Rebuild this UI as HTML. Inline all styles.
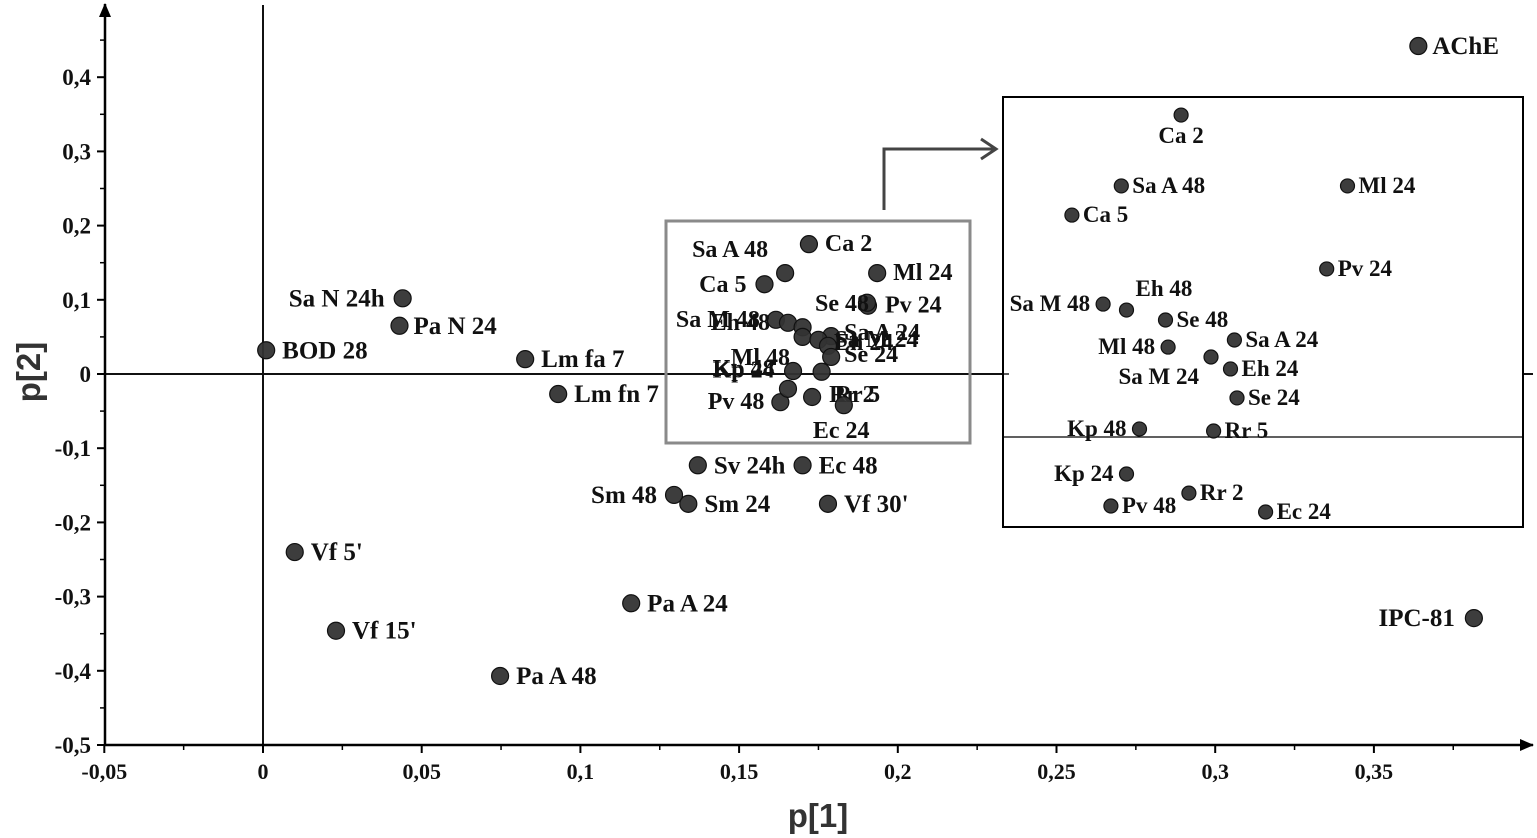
<!DOCTYPE html>
<html><head><meta charset="utf-8">
<style>
html,body{margin:0;padding:0;background:#fff;}
svg{display:block;}
text{font-family:"Liberation Serif",serif;font-weight:bold;fill:#111;}
.ax{font-family:"Liberation Sans",sans-serif;font-weight:bold;font-size:33px;fill:#333;}
</style></head>
<body>
<svg id="chart" width="1537" height="838" viewBox="0 0 1537 838" xmlns="http://www.w3.org/2000/svg"></svg>
<script>
// ---- data ----
const mainLabels = ["AChE","IPC-81","Sa N 24h","Pa N 24","BOD 28","Lm fa 7","Lm fn 7","Sv 24h","Ec 48","Sm 48","Sm 24","Vf 30'","Vf 5'","Vf 15'","Pa A 24","Pa A 48"];
const mainP1 = [0.364,0.3815,0.044,0.043,0.001,0.0826,0.093,0.137,0.170,0.1295,0.134,0.178,0.010,0.023,0.116,0.0747];
const mainP2 = [0.442,-0.329,0.102,0.065,0.032,0.020,-0.027,-0.123,-0.123,-0.163,-0.175,-0.175,-0.240,-0.346,-0.309,-0.407];
// cluster as seen in the main plot
const clusterMainLabels = ["Ca 2","Sa A 48","Ca 5","Ml 24","Pv 24","Se 48","Sa M 48","Eh 48","Kp 24","Kp 48","Sa A 24","Sa M 24","Eh 24","Se 24","Ml 48","Rr 5","Rr 2","Ec 24","Pv 48",""];
const clusterMainP1 = [0.172,0.1645,0.158,0.1935,0.1906,0.1903,0.1616,0.1654,0.170,0.170,0.179,0.175,0.178,0.179,0.167,0.176,0.173,0.183,0.163,0.1654];
const clusterMainP2 = [0.175,0.136,0.121,0.136,0.092,0.096,0.073,0.069,0.063,0.050,0.051,0.046,0.038,0.023,0.004,0.003,-0.031,-0.042,-0.038,-0.020];
// cluster as seen in the zoom inset
const clusterLabels = ["Ca 2","Sa A 48","Ca 5","Ml 24","Pv 24","Sa M 48","Eh 48","Se 48","Sa A 24","Ml 48","Sa M 24","Eh 24","Se 24","Kp 48","Rr 5","Kp 24","Rr 2","Pv 48","Ec 24"];
const clusterP1 = [0.1687,0.1641,0.1603,0.1815,0.1799,0.1627,0.1645,0.1675,0.1728,0.1677,0.1710,0.1725,0.1730,0.1655,0.1712,0.1645,0.1693,0.1633,0.1752];
const clusterP2 = [0.1722,0.1343,0.1187,0.1343,0.0899,0.0711,0.0679,0.0626,0.0519,0.0481,0.0428,0.0364,0.0209,0.0043,0.0032,-0.0198,-0.0300,-0.0369,-0.0401];
const xTicks = [-0.05,0,0.05,0.1,0.15,0.2,0.25,0.3,0.35];
const xTickLabels = ["-0,05","0","0,05","0,1","0,15","0,2","0,25","0,3","0,35"];
const yTicks = [0.4,0.3,0.2,0.1,0,-0.1,-0.2,-0.3,-0.4,-0.5];
const yTickLabels = ["0,4","0,3","0,2","0,1","0","-0,1","-0,2","-0,3","-0,4","-0,5"];

// ---- scales ----
const X = v => 263 + v*3174;
const Y = v => 374 - v*742;
const IX = v => 1003 + (v-0.155)*13000;
const IY = v => 437 - v*1869.6;

// label placements (style only): [dx, dy, anchor]
const mainLab = [[14,8,"start"],[-19,8,"end"],[-18,8,"end"],[14,8,"start"],[16,8,"start"],[16,8,"start"],[16,8,"start"],[16,8,"start"],[16,8,"start"],[-17,8,"end"],[16,8,"start"],[16,8,"start"],[16,8,"start"],[16,8,"start"],[16,8,"start"],[16,8,"start"]];
const clMainLab = [[16,7,"start"],[-17,-16,"end"],[-18,8,"end"],[16,7,"start"],[17,7,"start"],[-52,8,"start"],[-16,7,"end"],[-18,7,"end"],[-28,50,"end"],[-28,39,"end"],[13,4,"start"],[16,7,"start"],[6,4,"start"],[13,5,"start"],[-3,-6,"end"],[13,30,"start"],[17,5,"start"],[-31,33,"start"],[-16,7,"end"],[0,0,"start"]];
const clInsetLab = [[0,28,"middle"],[11,7,"start"],[11,7,"start"],[11,7,"start"],[11,7,"start"],[-13,7,"end"],[9,-14,"start"],[11,7,"start"],[11,7,"start"],[-13,7,"end"],[-12,27,"end"],[11,7,"start"],[11,7,"start"],[-13,7,"end"],[11,7,"start"],[-13,7,"end"],[11,7,"start"],[11,7,"start"],[11,7,"start"]];

const NS="http://www.w3.org/2000/svg";
const svg=document.getElementById('chart');
function mk(tag,attrs,parent){const e=document.createElementNS(NS,tag);for(const k in attrs)e.setAttribute(k,attrs[k]);(parent||svg).appendChild(e);return e;}

const defs=mk('defs',{});
const mkr=mk('marker',{id:'ah',markerWidth:'14',markerHeight:'14',refX:'13',refY:'6',orient:'auto',markerUnits:'userSpaceOnUse'},defs);
mk('path',{d:'M0,0 L14,6 L0,12 Z',fill:'#000'},mkr);

let e=mk('line',{x1:X(0),y1:5,x2:X(0),y2:745,stroke:'#111','stroke-width':2});


e=mk('line',{x1:105,y1:Y(0),x2:1533,y2:Y(0),stroke:'#111','stroke-width':2});



e=mk('line',{x1:105,y1:745,x2:105,y2:4,stroke:'#000','stroke-width':2.5,'marker-end':'url(#ah)'});


e=mk('line',{x1:105,y1:745,x2:1533,y2:745,stroke:'#000','stroke-width':2.5,'marker-end':'url(#ah)'});



xTicks.forEach((t,i)=>{
  mk('line',{x1:X(t),y1:745,x2:X(t),y2:753,stroke:'#000','stroke-width':2});
  mk('line',{x1:X(t+0.025),y1:745,x2:X(t+0.025),y2:750,stroke:'#000','stroke-width':1.5});
  const tx=mk('text',{x:X(t),y:779,'text-anchor':'middle','font-size':22});
  tx.textContent=xTickLabels[i];
  
  
});
yTicks.forEach((t,i)=>{
  mk('line',{x1:97,y1:Y(t),x2:105,y2:Y(t),stroke:'#000','stroke-width':2});
  if(t<0.45)mk('line',{x1:100,y1:Y(t+0.05),x2:105,y2:Y(t+0.05),stroke:'#000','stroke-width':1.5});
  const tx=mk('text',{x:91,y:Y(t)+8,'text-anchor':'end','font-size':23});
  tx.textContent=yTickLabels[i];
  
  
});
e=mk('text',{x:818,y:827,'text-anchor':'middle',class:'ax'});e.textContent='p[1]';


e=mk('text',{x:0,y:0,'text-anchor':'middle',class:'ax',transform:'translate(40,372) rotate(-90)'});e.textContent='p[2]';



e=mk('rect',{x:666,y:221,width:304,height:222,fill:'none',stroke:'#8a8a8a','stroke-width':3});


e=mk('path',{d:'M884,210 L884,149 L995,149 M981,139 L996,149 L981,159',fill:'none',stroke:'#444','stroke-width':3});



function point(px,py,r,label,lab,name,fs){
  const c=mk('circle',{cx:px,cy:py,r:r,fill:'#333',stroke:'#111','stroke-width':1.2,'fill-opacity':0.95});
  
  
  if(!label)return;
  const t=mk('text',{x:px+lab[0],y:py+lab[1],'text-anchor':lab[2],'font-size':fs});
  t.textContent=label;
  
  
}
mainLabels.forEach((l,i)=>point(X(mainP1[i]),Y(mainP2[i]),8.5,l,mainLab[i],'score-point',25));
clusterMainLabels.forEach((l,i)=>point(X(clusterMainP1[i]),Y(clusterMainP2[i]),8.5,l,clMainLab[i],'cluster-point',24));

e=mk('rect',{x:1003,y:97,width:520,height:430,fill:'#fff',stroke:'#000','stroke-width':2});


e=mk('line',{x1:1003,y1:IY(0),x2:1523,y2:IY(0),stroke:'#000','stroke-width':1.3});


mk('line',{x1:1003,y1:374,x2:1009,y2:374,stroke:'#000','stroke-width':1.3});
clusterLabels.forEach((l,i)=>point(IX(clusterP1[i]),IY(clusterP2[i]),7,l,clInsetLab[i],'inset-point',23));
</script>
</body></html>
